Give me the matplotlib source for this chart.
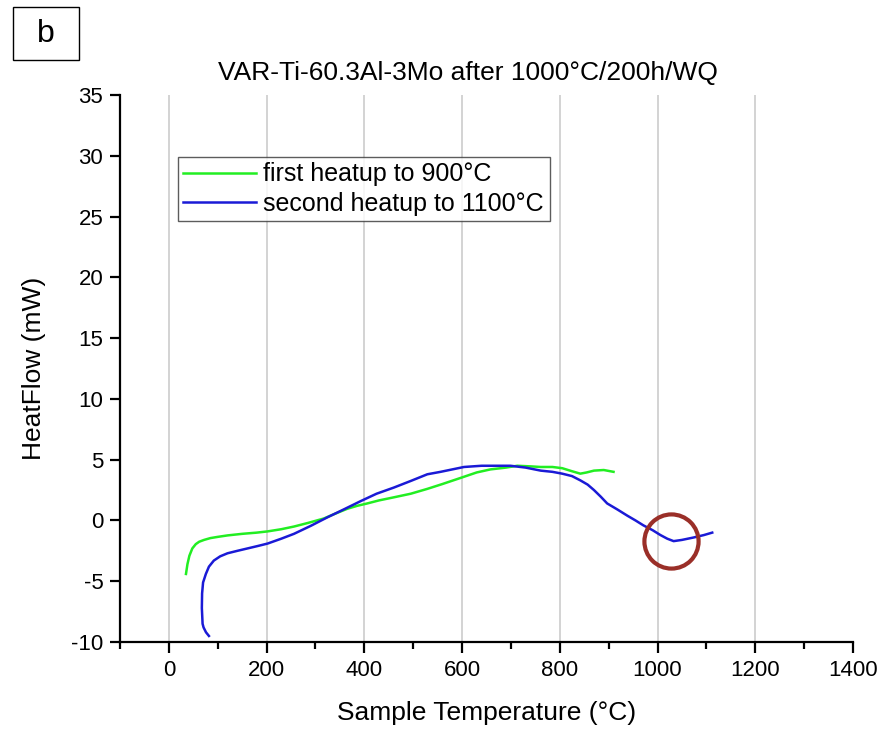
import matplotlib
matplotlib.use("Agg")
import matplotlib.pyplot as plt
from matplotlib.ticker import MultipleLocator
from matplotlib.patches import Rectangle

plt.rcParams['font.family'] = ['Liberation Sans', 'DejaVu Sans']
plt.rcParams['axes.unicode_minus'] = False

# First heatup to 900 °C
t_first = [35, 38, 42, 48, 55, 62, 72, 85, 100, 120, 150, 180, 202, 230, 256, 285,
           317, 340, 365, 385, 406, 430, 460, 495, 529, 560, 597, 630, 658, 690,
           713, 740, 761, 785, 805, 825, 842, 855, 870, 890, 910]
hf_first = [-4.4, -3.6, -2.9, -2.3, -1.95, -1.75, -1.6, -1.45, -1.35, -1.23, -1.1,
            -1.0, -0.9, -0.72, -0.5, -0.2, 0.16, 0.55, 0.96, 1.2, 1.4, 1.65, 1.9,
            2.2, 2.6, 3.0, 3.5, 3.95, 4.2, 4.35, 4.5, 4.45, 4.4, 4.4, 4.3, 4.05,
            3.85, 3.95, 4.1, 4.15, 4.0]

# Second heatup to 1100 °C
t_second = [82, 76, 71, 69, 67.5, 68, 70, 75.7, 82, 92, 105, 120, 140, 161, 182,
            202, 230, 256, 290, 324, 360, 393, 425, 460, 495, 529, 556, 580, 604,
            640, 670, 699, 730, 761, 785, 805, 825, 842, 857, 870, 884, 897, 918,
            938, 955, 971, 990, 1006, 1020, 1033, 1050, 1074, 1095, 1112]
hf_second = [-9.5, -9.2, -8.8, -8.5, -7.2, -6.0, -5.1, -4.4, -3.8, -3.3, -2.95,
             -2.7, -2.5, -2.3, -2.1, -1.9, -1.5, -1.1, -0.45, 0.25, 0.95, 1.6, 2.2,
             2.7, 3.25, 3.8, 4.0, 4.2, 4.4, 4.5, 4.5, 4.5, 4.35, 4.1, 4.0, 3.85,
             3.65, 3.3, 2.95, 2.5, 1.95, 1.4, 0.9, 0.4, 0.0, -0.4, -0.8, -1.2, -1.5,
             -1.7, -1.6, -1.4, -1.2, -1.0]

# Highlighted region
mark_t = [1027]
mark_hf = [-1.7]

x_ticks = [0, 200, 400, 600, 800, 1000, 1200, 1400]
y_ticks = [-10, -5, 0, 5, 10, 15, 20, 25, 30, 35]

fig = plt.figure(figsize=(8.85, 7.29), dpi=100)
ax = fig.add_axes([0.1356, 0.1193, 0.8282, 0.7504])

ax.set_xlim(-100, 1400)
ax.set_ylim(-10, 35)
ax.set_xticks(x_ticks)
ax.set_yticks(y_ticks)
ax.xaxis.set_minor_locator(MultipleLocator(100))

for xv in [0, 200, 400, 600, 800, 1000, 1200]:
    ax.axvline(xv, color='#cccccc', lw=1.2, zorder=0)

ax.plot(t_first, hf_first, color='#22ee22', lw=1.8, label='first heatup to 900°C')
ax.plot(t_second, hf_second, color='#1a1ad6', lw=1.8, label='second heatup to 1100°C')

ax.plot(mark_t, mark_hf, 'o', ms=39, mfc='none', mec='#9a2f28', mew=3)

for s in ['top', 'right']:
    ax.spines[s].set_visible(False)
for s in ['left', 'bottom']:
    ax.spines[s].set_linewidth(1.6)

ax.tick_params(axis='both', which='major', direction='out', length=8, width=1.6,
               labelsize=16, pad=5)
ax.tick_params(axis='x', which='minor', direction='out', length=5, width=1.6)
ax.tick_params(axis='y', which='major', length=7)

fig.text(468 / 885, 1 - 73 / 729, 'VAR-Ti-60.3Al-3Mo after 1000°C/200h/WQ',
         fontsize=19, ha='center', va='center')
ax.set_xlabel('Sample Temperature (°C)', fontsize=19, labelpad=14)
ax.set_ylabel('HeatFlow (mW)', fontsize=19, labelpad=18)

leg = ax.legend(loc='upper left', bbox_to_anchor=(0.079, 0.887), fontsize=18,
                frameon=True, fancybox=False, edgecolor='#333333',
                handlelength=2.9, handletextpad=0.3, borderpad=0.22,
                labelspacing=0.22, borderaxespad=0)
leg.get_frame().set_linewidth(1.0)

# Panel letter
fig.patches.append(Rectangle((13 / 885, 1 - 60 / 729), 66 / 885, 53 / 729,
                             transform=fig.transFigure, fill=False,
                             edgecolor='black', lw=1.0))
fig.text(46 / 885, 1 - 34 / 729, 'b', fontsize=23, ha='center', va='center')

fig.savefig('out.png', dpi=100)
